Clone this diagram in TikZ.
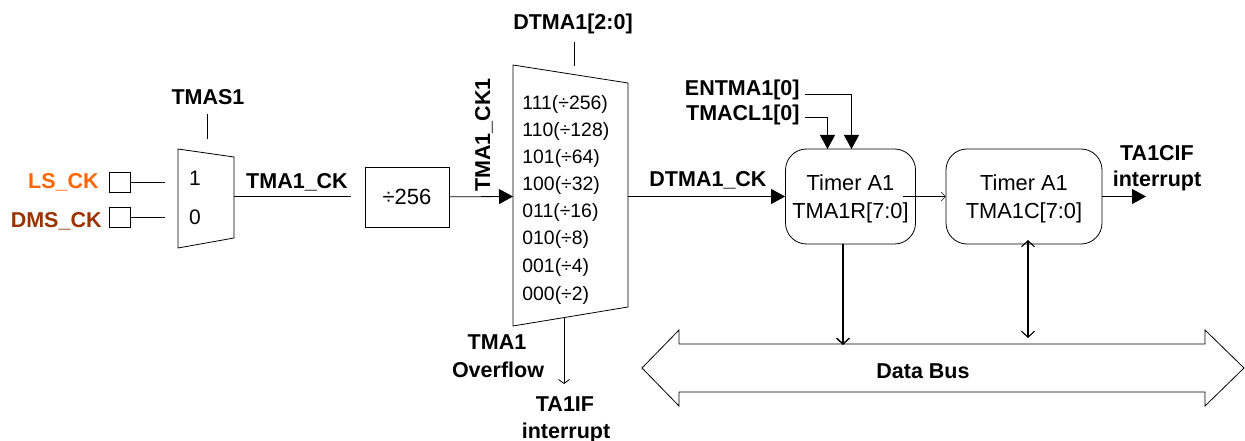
\documentclass[tikz,border=0pt]{standalone}
\usepackage{fontspec}
\setmainfont{Liberation Sans}
\usetikzlibrary{arrows.meta}
\definecolor{myorange}{RGB}{255,102,0}
\definecolor{mybrown}{RGB}{153,51,0}

\begin{document}
\begin{tikzpicture}[
  x=1pt,y=-1pt,
  line width=0.8pt,
  lbl/.style={
    inner sep=0pt,
    font=\fontsize{21.5}{24}\bfseries\selectfont
  },
  txt/.style={
    inner sep=0pt,
    font=\fontsize{19.4}{24}\selectfont
  },
  pad/.style={
    draw,
    minimum width=21pt,
    minimum height=20pt,
    inner sep=0pt
  },
  timer/.style={
    draw,
    rounded corners=21pt,
    minimum height=95pt,
    inner sep=0pt,
    align=center,
    font=\fontsize{21.8}{28}\selectfont
  },
  arr/.style={
    -{Triangle[length=14pt,width=15pt]}
  },
  thinarr/.style={
    -{Straight Barb[length=4pt,width=11pt]}
  },
  busarr/.style={
    {Straight Barb[length=6pt,width=13pt]}-{Straight Barb[length=6pt,width=13pt]}
  }
]
\useasboundingbox (0,0) rectangle (1245,441);

%the selector
\coordinate (selA) at (178,149);
\coordinate (selB) at (234,157);
\coordinate (selC) at (234,238);
\coordinate (selD) at (178,248);
\draw (selA) -- (selB) -- (selC) -- (selD) -- cycle;
\coordinate (selout) at (234,196.5);
\node[txt,font=\fontsize{21}{24}\selectfont] (one) at (195,178) {1};
\node[txt,font=\fontsize{21}{24}\selectfont] (zero) at (195,217) {0};

\node[pad] (lspad) at (119.5,182) {};
\node[pad] (dmspad) at (119.5,217) {};
\coordinate (lsend) at (165,182);
\coordinate (dmsend) at (165,217);
\node[lbl,text=myorange,anchor=east] (ls) at (99,182) {LS\_CK};
\node[lbl,text=mybrown,anchor=east] (dms) at (102,221) {DMS\_CK};
\draw (lspad) -- (lsend);
\draw (dmspad) -- (dmsend);

\node[lbl] (tmas) at (208,97) {TMAS1};
\coordinate (tmastop) at (207.5,114);
\coordinate (tmasbot) at (207.5,139);
\draw (tmastop) -- (tmasbot);

%the divider
\node[lbl] (tmack) at (297,182) {TMA1\_CK};
\node[draw,inner sep=0pt,minimum width=84pt,minimum height=60pt,font=\fontsize{22}{24}\selectfont] (div) at (407,197) {÷256};
\coordinate (divend) at (351,196.5);
\draw (selout) -- (divend);

%the prescaler
\coordinate (preA) at (513,65);
\coordinate (preB) at (628,83);
\coordinate (preC) at (628,307);
\coordinate (preD) at (513,326);
\draw (preA) -- (preB) -- (preC) -- (preD) -- cycle;
\coordinate (prein) at (513,196.5);
\coordinate (preout) at (628,196.5);
\coordinate (presel) at (574.5,66);
\coordinate (preseltop) at (574.5,42);
\coordinate (preovf) at (564,317);
\coordinate (ovfend) at (564,384);
\foreach \y/\t [count=\i] in {104/111(÷256),131/110(÷128),158/101(÷64),185/100(÷32),212/011(÷16),239/010(÷8),267/001(÷4),295/000(÷2)}
  \node[txt,anchor=west] (pre\i) at (522,\y) {\t};
\draw[arr] (div) -- (prein);
\draw (preseltop) -- (presel);
\draw[thinarr] (preovf) -- (ovfend);

\node[lbl] (dtma) at (573,24) {DTMA1[2:0]};
\node[lbl,rotate=90] (tmackone) at (484,135) {TMA1\_CK1};
\node[lbl] (ovfa) at (497,342) {TMA1};
\node[lbl] (ovfb) at (498,369.5) {Overflow};
\node[lbl] (ifa) at (565,404) {TA1IF};
\node[lbl] (ifb) at (566,432.5) {interrupt};
\node[lbl] (dtmack) at (708,180) {DTMA1\_CK};

%the timers
\node[timer,minimum width=130pt] (tmr) at (850.5,196.5) {\rule{0pt}{20pt}Timer A1\\TMA1R[7:0]};
\node[timer,minimum width=156pt] (tmc) at (1024,196.5) {\rule{0pt}{20pt}Timer A1\\TMA1C[7:0]};
\draw[arr] (preout) -- (tmr);

\coordinate (tmrmid) at (903,196.5);
\draw[-{Straight Barb[length=4pt,width=9pt]},line width=0.5pt] (tmrmid) -- (tmc);

\coordinate (tmcout) at (1146,196.5);
\draw[arr] (tmc) -- (tmcout);
\node[lbl] (cifa) at (1157,153) {TA1CIF};
\node[lbl] (cifb) at (1157,181) {interrupt};

%the enable and clear
\node[lbl,anchor=east] (ent) at (800,89.5) {ENTMA1[0]};
\node[lbl,anchor=east] (tcl) at (800,114.5) {TMACL1[0]};
\coordinate (entout) at (804.5,94);
\coordinate (tclout) at (804.5,117);
\coordinate (entin) at (851.5,149);
\coordinate (tclin) at (827.5,149);
\draw[arr] (entout) -| (entin);
\draw[arr] (tclout) -| (tclin);

%the bus
\draw (642,368) -- (679,330) -- (679,344) -- (1205,344) -- (1205,330) -- (1244,368)
  -- (1205,406) -- (1205,392) -- (679,392) -- (679,406) -- cycle;
\node[lbl] (buslbl) at (923,371) {Data Bus};

\coordinate (tmrbot) at (843,244);
\coordinate (businA) at (843,345);
\coordinate (tmcbot) at (1028,240);
\coordinate (businB) at (1028,338);
\draw[-{Straight Barb[length=6pt,width=13pt]},line width=1.4pt] (tmrbot) -- (businA);
\draw[busarr,line width=1.1pt] (tmcbot) -- (businB);

\end{tikzpicture}
\end{document}
